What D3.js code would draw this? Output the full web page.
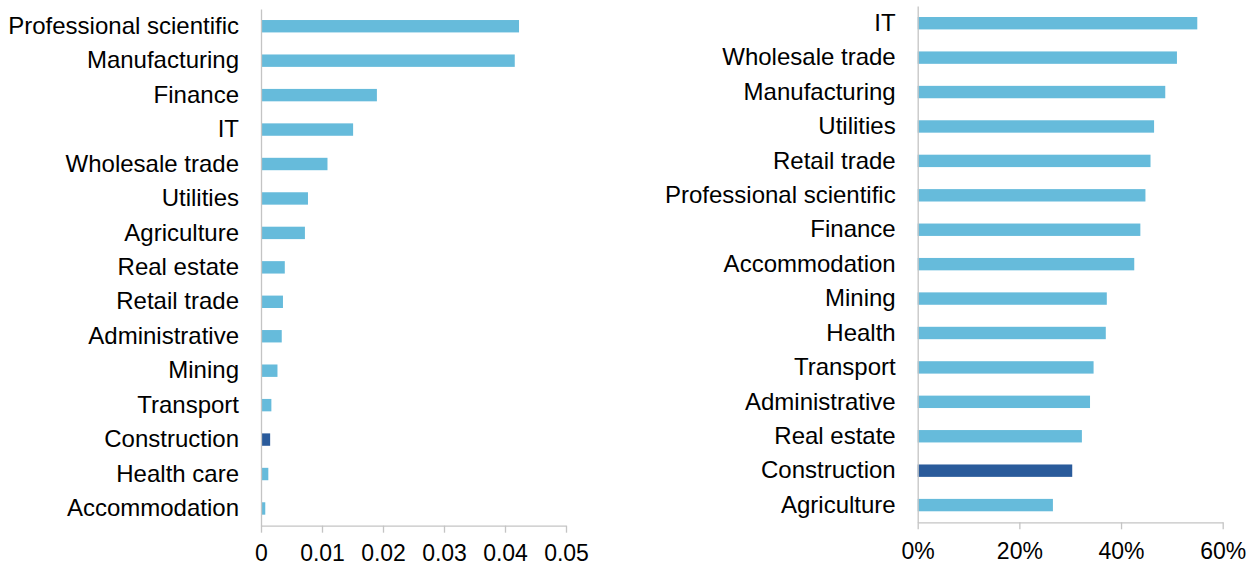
<!DOCTYPE html>
<html>
<head>
<meta charset="utf-8">
<script src="https://cdn.jsdelivr.net/npm/d3@7"></script>
<style>
  body { margin: 0; background: #fff; }
  svg { display: block; font-family: "Liberation Sans", Arial, sans-serif; }
</style>
</head>
<body>
<svg id="canvas"></svg>
<script>
// left panel
const leftCategories = ['Professional scientific', 'Manufacturing', 'Finance', 'IT', 'Wholesale trade',
  'Utilities', 'Agriculture', 'Real estate', 'Retail trade', 'Administrative', 'Mining',
  'Transport', 'Construction', 'Health care', 'Accommodation'];
const leftValues = [0.0423, 0.0416, 0.0190, 0.0151, 0.0109, 0.0077, 0.0072, 0.0039, 0.0036,
  0.0034, 0.0027, 0.0017, 0.0015, 0.0012, 0.0007];
const leftTicks = [0, 0.01, 0.02, 0.03, 0.04, 0.05];

// right panel
const rightCategories = ['IT', 'Wholesale trade', 'Manufacturing', 'Utilities', 'Retail trade',
  'Professional scientific', 'Finance', 'Accommodation', 'Mining', 'Health', 'Transport',
  'Administrative', 'Real estate', 'Construction', 'Agriculture'];
const rightValues = [0.550, 0.510, 0.487, 0.465, 0.458, 0.448, 0.438, 0.426, 0.372, 0.370,
  0.346, 0.339, 0.323, 0.304, 0.266];
const rightTicks = [0, 0.2, 0.4, 0.6];

const highlight = 'Construction';
const lightBlue = '#66bbdb';
const darkBlue = '#2a5b9b';
const axisGrey = '#c4c4c4';

const canvas = d3.select('#canvas')
                 .attr('width', 1256)
                 .attr('height', 565);

const drawPanel = (cats, vals, ticks, cfg) => {
  const x = d3.scaleLinear()
              .domain([0, ticks[ticks.length - 1]])
              .range([cfg.x0, cfg.x1]);
  const y = d3.scaleBand()
              .domain(cats)
              .range([cfg.y0, cfg.y1])
              .paddingInner(0.64)
              .paddingOuter(0.32);

  canvas.append('g')
        .selectAll('rect')
        .data(cats)
        .enter()
        .append('rect')
        .attr('x', x(0))
        .attr('y', d => y(d))
        .attr('width', (d, i) => x(vals[i]) - x(0))
        .attr('height', y.bandwidth())
        .attr('fill', d => d === highlight ? darkBlue : lightBlue);

  const xAxis = canvas.append('g')
        .attr('transform', `translate(0, ${cfg.y1})`)
        .call(d3.axisBottom(x)
                .tickValues(ticks)
                .tickFormat(cfg.fmt)
                .tickSize(7)
                .tickSizeOuter(0));
  xAxis.selectAll('line, path').attr('stroke', axisGrey).attr('stroke-width', 1.3);
  xAxis.selectAll('text')
       .attr('y', cfg.tickY)
       .attr('fill', '#000')
       .style('font-size', '23px');

  const yAxis = canvas.append('g')
        .attr('transform', `translate(${cfg.x0}, 0)`)
        .call(d3.axisLeft(y)
                .tickSize(0)
                .tickSizeOuter(0)
                .tickPadding(22));
  yAxis.select('.domain').attr('stroke', axisGrey).attr('stroke-width', 1.3);
  yAxis.selectAll('text')
       .attr('fill', '#000')
       .style('font-size', '24px');
}

drawPanel(leftCategories, leftValues, leftTicks, {
  x0: 261, x1: 566, y0: 9, y1: 525.7, tickY: 19,
  fmt: d => d === 0 ? '0' : d3.format('.2f')(d)
});

drawPanel(rightCategories, rightValues, rightTicks, {
  x0: 917.7, x1: 1222.7, y0: 6, y1: 522.3, tickY: 20.5,
  fmt: d3.format('.0%')
});
</script>
</body>
</html>
